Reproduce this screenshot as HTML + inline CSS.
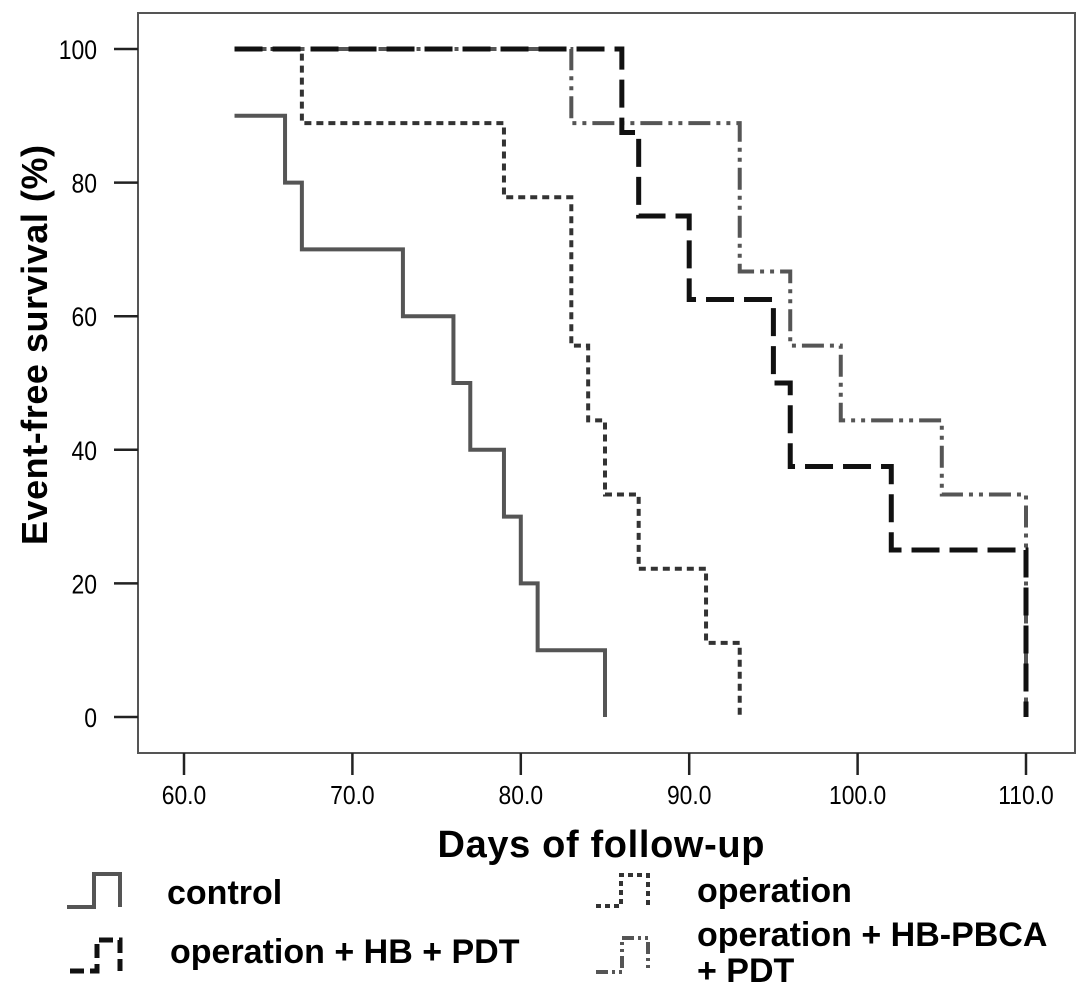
<!DOCTYPE html>
<html><head><meta charset="utf-8"><style>
body{margin:0;background:#fff;width:1087px;height:992px;overflow:hidden}
svg{display:block;font-family:"Liberation Sans",sans-serif}
</style></head><body>
<svg id="chart" width="1087" height="992">
<rect x="138" y="13" width="937" height="740" fill="none" stroke="#555" stroke-width="2"/>
<g id="yaxis"></g>
<g id="xaxis"></g>
<g id="series"></g>
<text x="0" y="0" transform="translate(47 345) rotate(-90)" text-anchor="middle" font-size="36" font-weight="bold" textLength="400">Event-free survival (%)</text>
<text x="601" y="857" text-anchor="middle" font-size="38" font-weight="bold" textLength="327">Days of follow-up</text>
<g font-size="34" font-weight="bold">
<g>
<path d="M67 907H94V874H120V907" fill="none" stroke="#555" stroke-width="4"/>
<text x="167" y="904">control</text></g>
<g>
<path d="M596 906H621V875H648V906" fill="none" stroke="#333" stroke-width="4" stroke-dasharray="5 4"/>
<text x="697" y="902">operation</text></g>
<g>
<path d="M70 971H97V940H120V971" fill="none" stroke="#111" stroke-width="5" stroke-dasharray="14 6"/>
<text x="170" y="963">operation + HB + PDT</text></g>
<g>
<path d="M596 972H622V938H648V968" fill="none" stroke="#555" stroke-width="4" stroke-dasharray="12 4 3 4 3 4"/>
<text x="697" y="946">operation + HB-PBCA</text>
<text x="697" y="982">+ PDT</text></g>
</g>
</svg>
<script>
const xTicks=[60,70,80,90,100,110];
const xTickLabels=["60.0","70.0","80.0","90.0","100.0","110.0"];
const yTicks=[0,20,40,60,80,100];
const controlDays=[63,66,67,73,76,77,79,80,81,85];
const controlSurv=[90,80,70,60,50,40,30,20,10,0];
const operationDays=[63,67,79,83,84,85,87,91,93];
const operationSurv=[100,88.9,77.8,55.6,44.4,33.3,22.2,11.1,0];
const hbDays=[63,86,87,90,95,96,102,110];
const hbSurv=[100,87.5,75,62.5,50,37.5,25,0];
const pbcaDays=[63,83,93,96,99,105,110];
const pbcaSurv=[100,88.9,66.7,55.6,44.4,33.3,0];
const NS='http://www.w3.org/2000/svg';
const X=d=>184+(d-60)*(1026-184)/50;
const Y=v=>717-v*(717-49)/100;
function mk(t,a,p){const e=document.createElementNS(NS,t);for(const k in a)e.setAttribute(k,a[k]);p.appendChild(e);return e;}
const ya=document.getElementById('yaxis'),xa=document.getElementById('xaxis'),sg=document.getElementById('series');
yTicks.forEach(v=>{
  const l=mk('line',{x1:114,x2:138,y1:Y(v),y2:Y(v),stroke:'#222','stroke-width':2.5},ya);
  
  
  const t=mk('text',{x:0,y:0,'text-anchor':'end','font-size':27,transform:'translate(97 '+(Y(v)+10)+') scale(0.85 1)'},ya);
  t.textContent=v;
  
  
});
xTicks.forEach((d,i)=>{
  const l=mk('line',{x1:X(d),x2:X(d),y1:753,y2:775,stroke:'#222','stroke-width':2.5},xa);
  
  
  const t=mk('text',{x:0,y:0,'text-anchor':'middle','font-size':26,transform:'translate('+X(d)+' 804) scale(0.88 1)'},xa);
  t.textContent=xTickLabels[i];
  
  
});
function step(days,surv,style,name){
  let d='M'+X(days[0])+' '+Y(surv[0]);
  for(let i=1;i<days.length;i++){d+='H'+X(days[i])+'V'+Y(surv[i]);}
  const p=mk('path',Object.assign({d:d,fill:'none'},style),sg);
  
  
}
step(controlDays,controlSurv,{stroke:'#555','stroke-width':4},'control-line');
step(operationDays,operationSurv,{stroke:'#333','stroke-width':4,'stroke-dasharray':'7 5'},'operation-line');
step(pbcaDays,pbcaSurv,{stroke:'#555','stroke-width':4,'stroke-dasharray':'22 6 4 6 4 6'},'hb-pbca-pdt-line');
step(hbDays,hbSurv,{stroke:'#111','stroke-width':5,'stroke-dasharray':'28 10'},'hb-pdt-line');
</script>
</body></html>
